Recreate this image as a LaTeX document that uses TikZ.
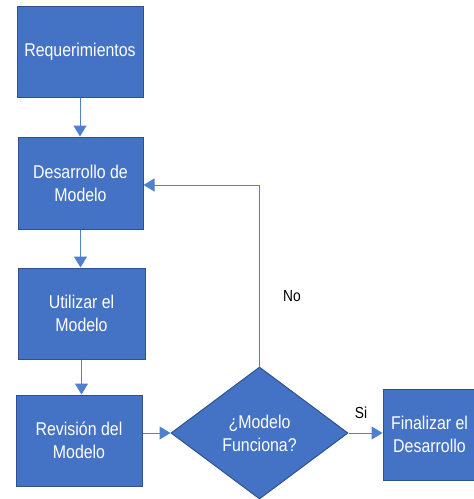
\documentclass[tikz,border=0pt]{standalone}
\usepackage{fontspec}
\setmainfont{Liberation Sans}[FakeStretch=0.86]
\usetikzlibrary{shapes.geometric,arrows.meta}
\definecolor{boxfill}{HTML}{4472C4}
\definecolor{boxedge}{HTML}{2F528F}
\definecolor{linecol}{HTML}{4F7FD0}
\tikzset{
  x=1pt,y=-1pt,
  procbox/.style={draw=boxedge,line width=1pt,fill=boxfill,text=white,align=center,
    inner sep=0pt,font=\fontsize{18.5}{23}\selectfont},
  decbox/.style={diamond,draw=boxedge,line width=1pt,fill=boxfill,text=white,align=center,
    inner sep=0pt,aspect=1.34,minimum width=177pt,minimum height=132pt,
    font=\fontsize{18.5}{23}\selectfont},
  conn/.style={draw=linecol,line width=1pt,-{Triangle[length=11pt,width=13pt]}},
  lbl/.style={font=\fontsize{16}{18}\selectfont,text=black,inner sep=0pt}
}
\begin{document}
\begin{tikzpicture}
\useasboundingbox (0,0) rectangle (474,499);
\node[procbox,minimum width=126pt,minimum height=91pt] (req) at (80,51.5) {Requerimientos};
\node[procbox,minimum width=125pt,minimum height=92pt] (des) at (80.5,183) {Desarrollo de\\Modelo};
\node[procbox,minimum width=127pt,minimum height=91pt] (uti) at (81.5,313.5) {Utilizar el\\Modelo};
\node[procbox,minimum width=126pt,minimum height=91pt] (rev) at (79,440.5) {Revisión del\\Modelo};
\node[decbox] (dec) at (259.5,433) {¿Modelo\\Funciona?};
\node[procbox,minimum width=99pt,minimum height=91pt] (fin) at (432.5,434.5) {Finalizar el\hspace*{6pt}\\Desarrollo\hspace*{6pt}};
\coordinate (corner) at (259.5,185);
\draw[conn] (req.south) -- (req.south |- des.north);
\draw[conn] (des.south) -- (des.south |- uti.north);
\draw[conn] (uti.south) -- (uti.south |- rev.north);
\draw[conn] (rev.east |- dec.west) -- (dec.west);
\draw[conn] (dec.east) -- (fin.west |- dec.east);
\draw[conn] (dec.north) -- (corner) -- (corner -| des.east);
\node[lbl] (no) at (292,296) {No};
\node[lbl] (si) at (361,413) {Si};
\end{tikzpicture}
\end{document}
